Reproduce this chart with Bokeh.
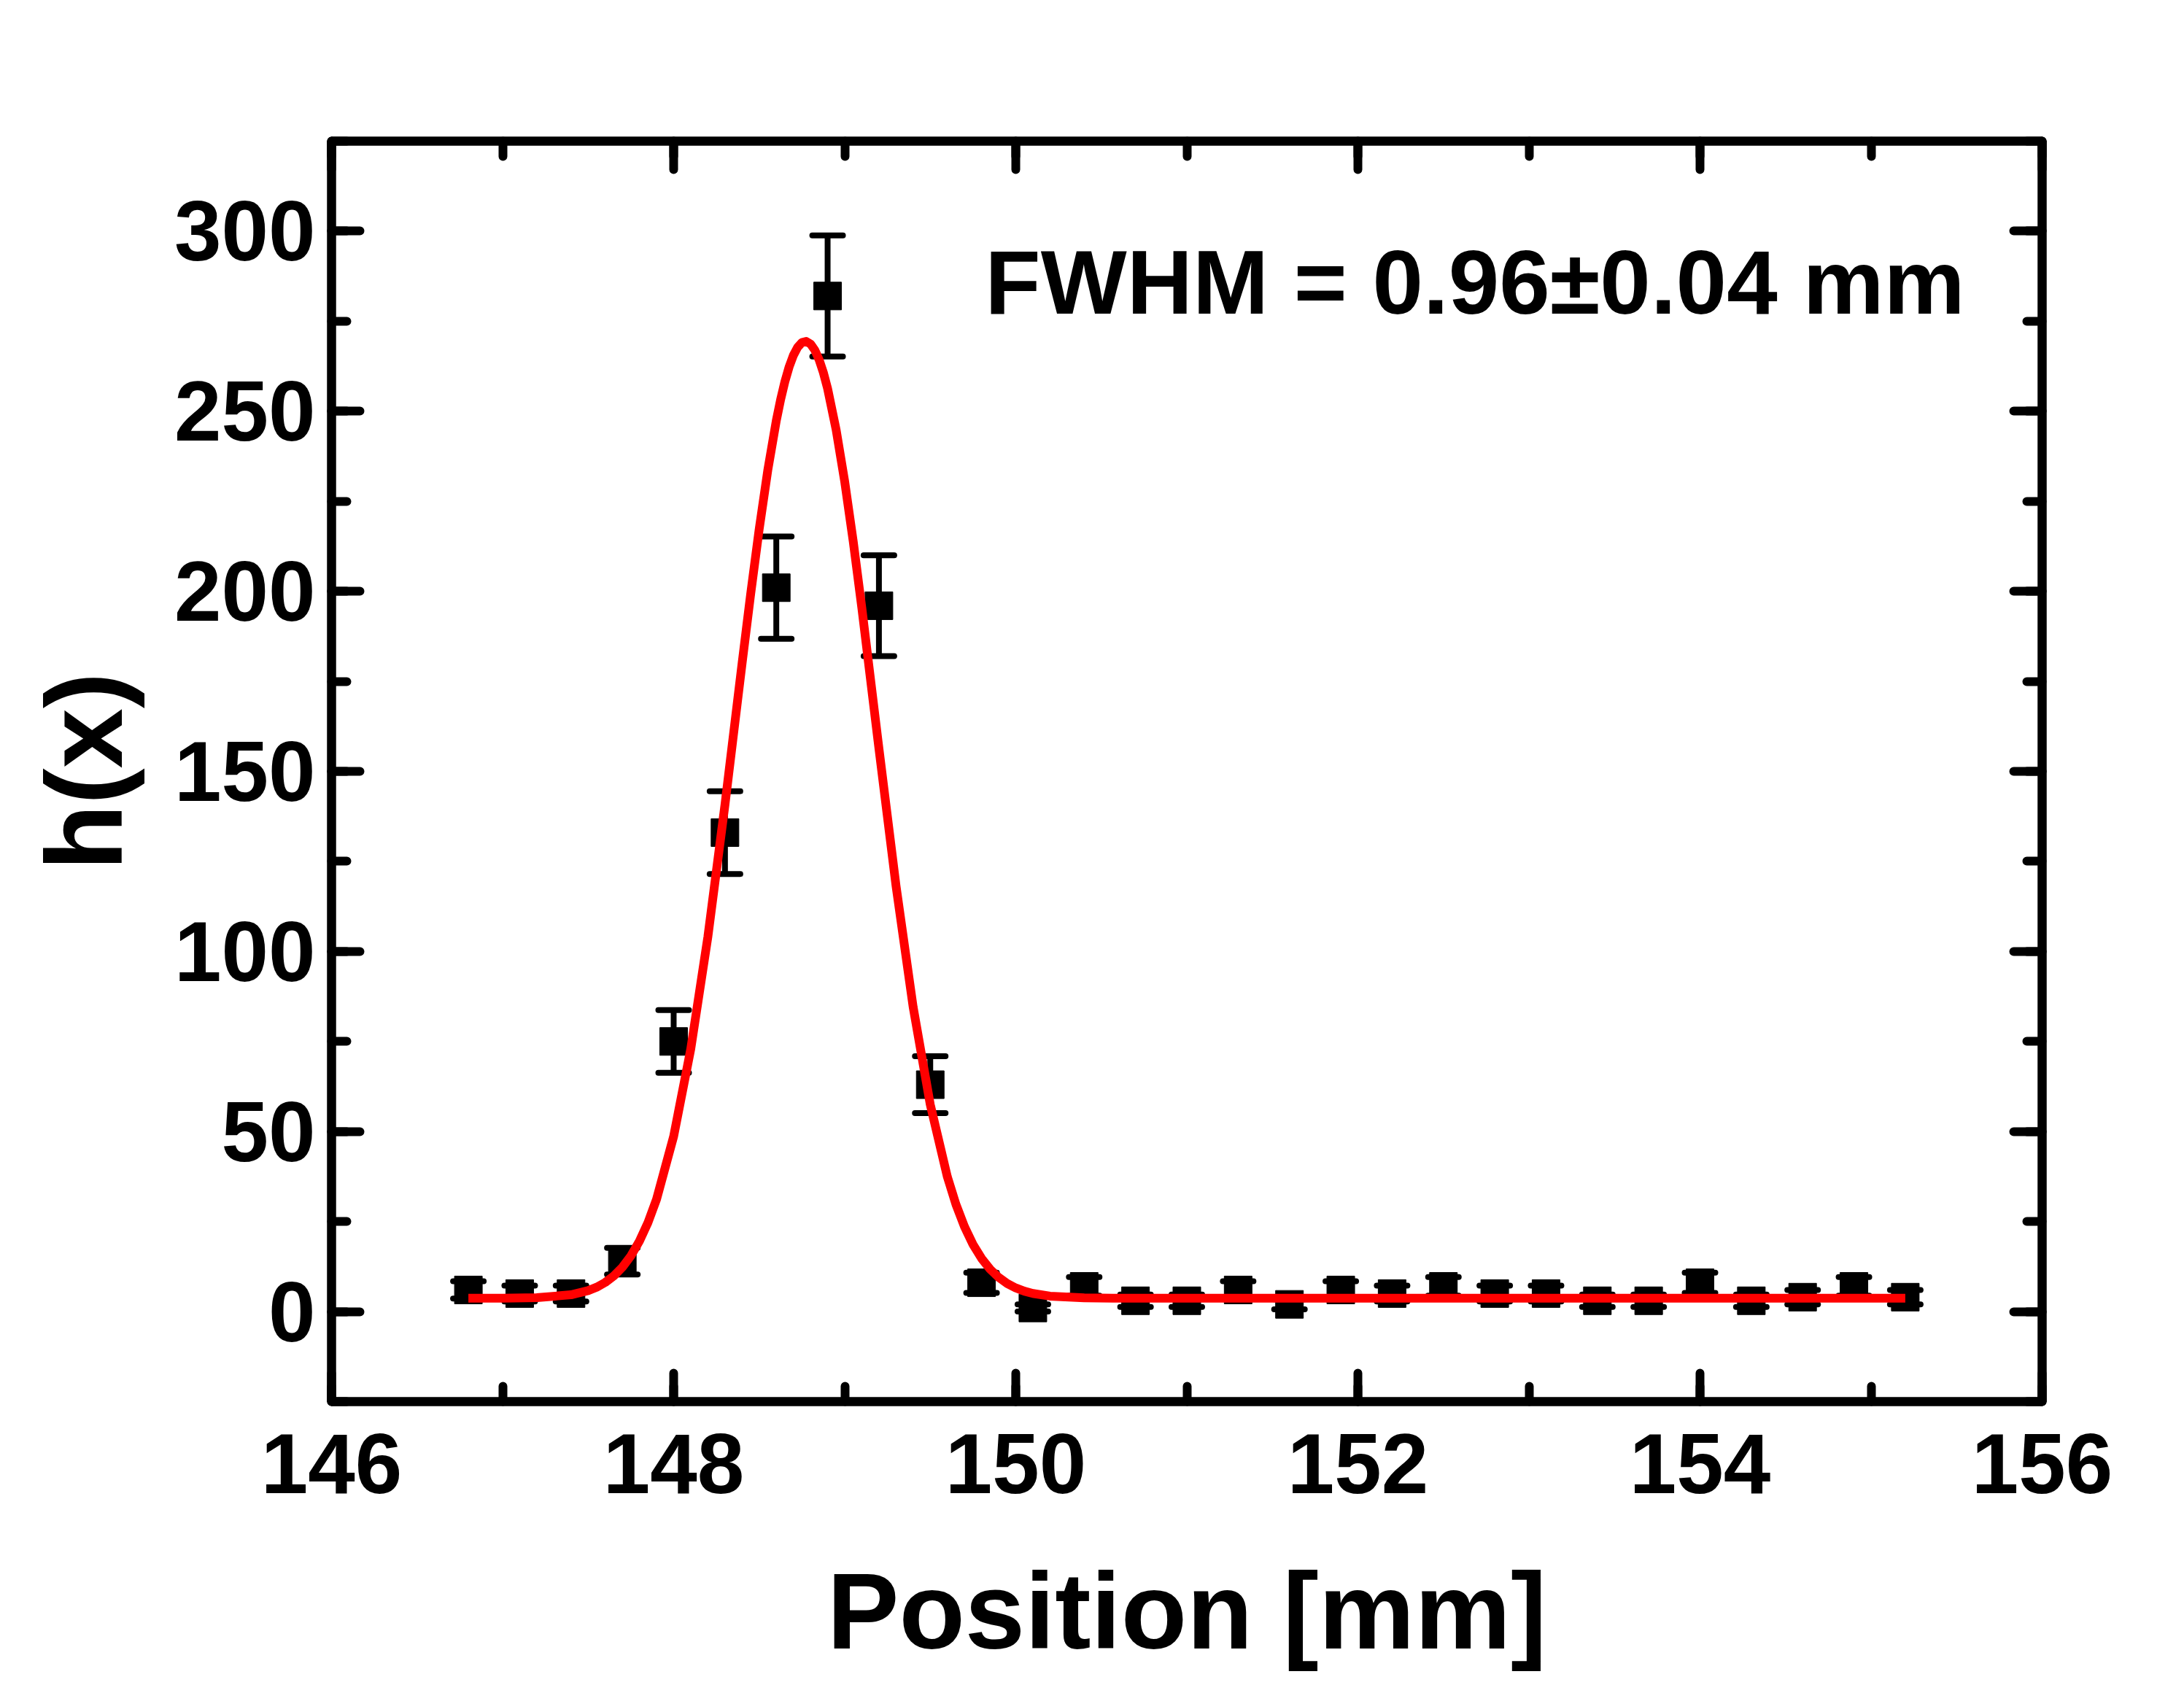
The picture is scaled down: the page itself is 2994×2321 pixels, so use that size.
from bokeh.plotting import figure
from bokeh.models import (Range1d, SingleIntervalTicker, LinearAxis, Whisker, TeeHead,
                          ColumnDataSource, Label, CustomJSTickFormatter)
from bokeh.embed import file_html
from bokeh.resources import INLINE

# ---- data ----
position = [146.8, 147.1, 147.4, 147.7, 148.0, 148.3, 148.6, 148.9, 149.2, 149.5,
            149.8, 150.1, 150.4, 150.7, 151.0, 151.3, 151.6, 151.9, 152.2, 152.5,
            152.8, 153.1, 153.4, 153.7, 154.0, 154.3, 154.6, 154.9, 155.2]
counts = [6, 5, 5, 14, 75, 133, 201, 282, 196, 63,
          8, 1, 7, 3, 3, 6, 2, 6, 5, 7,
          5, 5, 3, 3, 8, 3, 4, 7, 4]
errors = [2.4, 2.2, 2.2, 3.7, 8.7, 11.5, 14.2, 16.8, 14.0, 7.9,
          2.8, 1.0, 2.6, 1.7, 1.7, 2.4, 1.4, 2.4, 2.2, 2.6,
          2.2, 2.2, 1.7, 1.7, 2.8, 1.7, 2.0, 2.6, 2.0]

fit_x = [146.8, 147.0, 147.2, 147.4, 147.5, 147.55, 147.6, 147.65, 147.7, 147.75,
         147.8, 147.85, 147.9, 148.0, 148.1, 148.2, 148.3, 148.4, 148.45, 148.5,
         148.55, 148.6, 148.625, 148.65, 148.675, 148.7, 148.725, 148.75, 148.775, 148.8,
         148.825, 148.85, 148.875, 148.9, 148.95, 149.0, 149.05, 149.1, 149.2, 149.3,
         149.4, 149.5, 149.6, 149.65, 149.7, 149.75, 149.8, 149.85, 149.9, 149.95,
         150.0, 150.05, 150.1, 150.2, 150.4, 150.6, 155.2]
fit_y = [3.70, 3.72, 3.86, 4.66, 5.82, 6.77, 8.09, 9.89, 12.30, 15.46,
         19.54, 24.73, 31.19, 48.66, 72.91, 104.05, 140.76, 179.99, 199.19, 217.26,
         233.53, 247.36, 253.18, 258.18, 262.31, 265.53, 267.79, 269.08, 269.38, 268.68,
         267.00, 264.35, 260.76, 256.28, 244.82, 230.45, 213.77, 195.42, 156.38, 118.20,
         84.58, 57.51, 37.42, 29.79, 23.59, 18.64, 14.76, 11.76, 9.49, 7.79,
         6.55, 5.66, 5.03, 4.28, 3.79, 3.71, 3.70]

x_title = "Position [mm]"
y_title = "h(x)"
annotation = "FWHM = 0.96\u00b10.04 mm"

FONT = "Liberation Sans"

p = figure(width=2976, height=2312, output_backend="svg", toolbar_location=None,
           x_range=Range1d(146, 156), y_range=Range1d(-25, 325),
           min_border_left=454, min_border_right=177, min_border_top=193,
           min_border_bottom=391)
p.background_fill_color = "white"
p.border_fill_color = "white"
p.xgrid.visible = False
p.ygrid.visible = False
p.outline_line_color = "black"
p.outline_line_width = 12
p.outline_line_alpha = 1.0

bottom = p.below[0]
left = p.left[0]

xt = SingleIntervalTicker(interval=2, num_minor_ticks=2)
yt = SingleIntervalTicker(interval=50, num_minor_ticks=2)
bottom.ticker = xt
left.ticker = yt

top = LinearAxis(ticker=xt, formatter=CustomJSTickFormatter(code="return ''"))
right = LinearAxis(ticker=yt, formatter=CustomJSTickFormatter(code="return ''"))
p.add_layout(top, "above")
p.add_layout(right, "right")

for ax in [bottom, left, top, right]:
    ax.axis_line_width = 12
    ax.axis_line_color = "black"
    ax.major_tick_line_width = 12
    ax.minor_tick_line_width = 12
    ax.major_tick_line_color = "black"
    ax.minor_tick_line_color = "black"
    ax.major_tick_line_cap = "round"
    ax.minor_tick_line_cap = "round"
    ax.major_tick_in = 39
    ax.major_tick_out = 0
    ax.minor_tick_in = 21
    ax.minor_tick_out = 0
    ax.major_label_text_font = FONT
    ax.major_label_text_font_style = "bold"
    ax.major_label_text_font_size = "116px"
    ax.major_label_text_color = "black"
    ax.axis_label_text_font = FONT
    ax.axis_label_text_font_style = "bold"
    ax.axis_label_text_font_size = "148px"
    ax.axis_label_text_color = "black"

top.major_label_text_font_size = "1px"
right.major_label_text_font_size = "1px"

bottom.axis_label = x_title
left.axis_label = y_title
bottom.major_label_standoff = 44
bottom.axis_label_standoff = 76
left.major_label_standoff = 22
left.axis_label_standoff = 38

src = ColumnDataSource(dict(
    x=position, y=counts,
    upper=[c + e for c, e in zip(counts, errors)],
    lower=[c - e for c, e in zip(counts, errors)],
))

w = Whisker(base="x", upper="upper", lower="lower", source=src,
            line_width=8, line_color="black", level="underlay",
            upper_head=TeeHead(size=42, line_width=8, line_color="black", line_cap="round"),
            lower_head=TeeHead(size=42, line_width=8, line_color="black", line_cap="round"))
p.add_layout(w)

p.scatter("x", "y", source=src, marker="square", size=38,
          fill_color="black", line_color="black", line_width=1)

p.line(fit_x, fit_y, line_color="#ff0000", line_width=12, line_join="round")

p.add_layout(Label(x=149.82, y=286.0, text=annotation, text_font=FONT,
                   text_font_style="bold", text_font_size="125px",
                   text_color="black", text_align="left",
                   text_baseline="alphabetic"))

open("out.html", "w").write(file_html(p, INLINE))
